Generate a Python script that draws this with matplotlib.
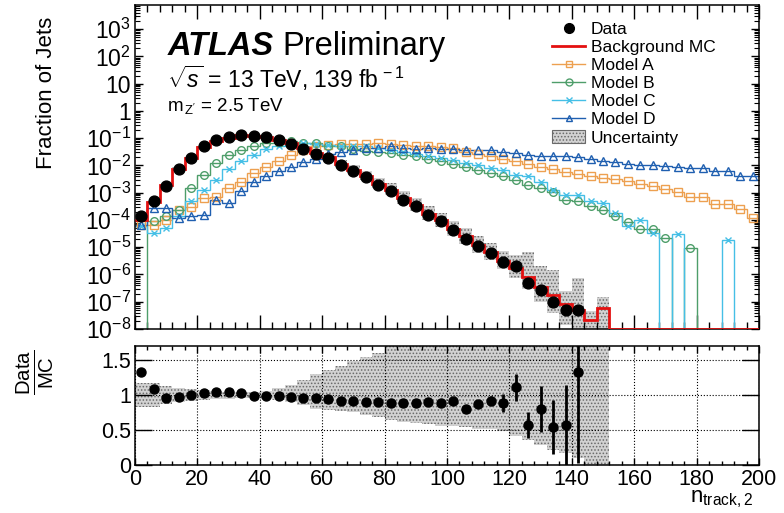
import numpy as np
import matplotlib
matplotlib.use('Agg')
import matplotlib.pyplot as plt
from matplotlib.lines import Line2D
from matplotlib.patches import Patch
from matplotlib.ticker import FixedLocator, MultipleLocator, LogLocator, NullFormatter, FuncFormatter

plt.rcParams['font.family'] = ['Liberation Sans', 'DejaVu Sans']
plt.rcParams['mathtext.fontset'] = 'custom'
plt.rcParams['mathtext.rm'] = 'Liberation Sans'
plt.rcParams['mathtext.it'] = 'Liberation Sans:italic'
plt.rcParams['mathtext.bf'] = 'Liberation Sans:bold'
plt.rcParams['hatch.linewidth'] = 0.7

# --- binning (n_track,2, 4 tracks per bin) ---
bin_edges = np.arange(0, 204, 4)
bin_centers = bin_edges[:-1] + 2

# --- data (bins 0-144) ---
data_frac = [1.35e-4, 4.79e-4, 1.82e-3, 7.41e-3, 1.86e-2, 5.01e-2, 8.32e-2, 0.110, 0.133, 0.123,
             0.110, 8.32e-2, 6.24e-2, 4.17e-2, 2.75e-2, 1.86e-2, 1.06e-2, 6.40e-3, 3.63e-3, 1.96e-3,
             1.12e-3, 5.55e-4, 3.15e-4, 1.56e-4, 8.89e-5, 4.42e-5, 2.01e-5, 1.08e-5, 6.18e-6, 2.80e-6,
             2.0e-6, 4.68e-7, 2.80e-7, 9.6e-8, 4.9e-8, 4.9e-8]

# --- background MC (all 50 bins) ---
bkg_mc = [1.02e-4, 4.42e-4, 1.91e-3, 7.69e-3, 1.87e-2, 4.88e-2, 7.98e-2, 0.105, 0.130, 0.124,
          0.112, 8.49e-2, 6.47e-2, 4.37e-2, 2.88e-2, 1.98e-2, 1.14e-2, 6.87e-3, 3.96e-3, 2.14e-3,
          1.24e-3, 6.18e-4, 3.51e-4, 1.71e-4, 9.9e-5, 4.82e-5, 2.51e-5, 1.22e-5, 6.64e-6, 3.16e-6,
          1.79e-6, 8.17e-7, 3.49e-7, 1.78e-7, 8.5e-8, 5.0e-8, 2.1e-8, 6.0e-8,
          0, 0, 0, 0, 0, 0, 0, 0, 0, 0, 0, 0]

# --- MC uncertainty, relative to MC (bins 0-152) ---
band_hi = [1.17, 1.17, 1.13, 1.10, 1.08, 1.07, 1.06, 1.05, 1.04, 1.04,
           1.06, 1.10, 1.15, 1.22, 1.30, 1.36, 1.42, 1.48, 1.54, 1.60,
           1.8, 1.9, 1.9, 1.9, 1.9, 1.9, 2.0, 2.1, 2.2, 2.3,
           3.0, 8.0, 6.0, 8.0, 3.0, 15.0, 2.2, 2.5]
band_lo = [0.83, 0.83, 0.87, 0.90, 0.92, 0.93, 0.94, 0.95, 0.96, 0.96,
           0.95, 0.93, 0.90, 0.86, 0.80, 0.78, 0.77, 0.75, 0.72, 0.68,
           0.64, 0.62, 0.60, 0.58, 0.56, 0.55, 0.54, 0.52, 0.51, 0.49,
           0.42, 0.36, 0.28, 0.22, 0.17, 0.10, 0.0, 0.0]

# --- signal models (all 50 bins) ---
model_a = [6.76e-5, 6.76e-5, 1.02e-4, 2.40e-4, 2.95e-4, 6.46e-4, 7.24e-4, 1.48e-3, 2.57e-3, 5.25e-3,
           9.12e-3, 1.41e-2, 2.45e-2, 3.80e-2, 5.01e-2, 5.75e-2, 6.03e-2, 6.17e-2, 6.17e-2, 6.61e-2,
           6.17e-2, 5.75e-2, 5.01e-2, 5.01e-2, 4.57e-2, 4.37e-2, 3.24e-2, 2.69e-2, 2.29e-2, 1.78e-2,
           1.48e-2, 1.15e-2, 8.91e-3, 7.59e-3, 5.89e-3, 5.01e-3, 4.17e-3, 3.55e-3, 3.24e-3, 2.75e-3,
           2.14e-3, 1.82e-3, 1.41e-3, 1.10e-3, 7.08e-4, 7.08e-4, 3.98e-4, 3.98e-4, 2.51e-4, 1.17e-4]
model_b = [0, 8.91e-5, 1.35e-4, 2.40e-4, 1.48e-3, 4.57e-3, 1.23e-2, 2.34e-2, 3.63e-2, 5.01e-2,
           6.46e-2, 6.92e-2, 7.59e-2, 6.92e-2, 6.61e-2, 5.37e-2, 5.01e-2, 4.07e-2, 3.47e-2, 3.02e-2,
           2.82e-2, 2.45e-2, 2.14e-2, 1.70e-2, 1.41e-2, 1.10e-2, 9.12e-3, 6.92e-3, 5.50e-3, 3.98e-3,
           3.02e-3, 1.95e-3, 1.48e-3, 1.02e-3, 5.50e-4, 4.79e-4, 3.31e-4, 2.40e-4, 1.35e-4, 8.13e-5,
           4.68e-5, 4.68e-5, 2.19e-5, 0, 9.33e-6, 0, 0, 0, 0, 0]
model_c = [6.17e-5, 3.31e-5, 5.25e-5, 1.35e-4, 5.13e-4, 1.29e-3, 3.02e-3, 7.59e-3, 1.45e-2, 2.45e-2,
           4.07e-2, 5.01e-2, 6.03e-2, 6.61e-2, 6.17e-2, 5.75e-2, 5.37e-2, 5.01e-2, 5.01e-2, 4.37e-2,
           3.80e-2, 3.24e-2, 2.69e-2, 2.14e-2, 1.82e-2, 1.62e-2, 1.23e-2, 1.07e-2, 7.94e-3, 6.61e-3,
           4.57e-3, 3.98e-3, 2.57e-3, 1.29e-3, 8.51e-4, 8.51e-4, 4.79e-4, 4.17e-4, 1.82e-4, 5.89e-5,
           1.02e-4, 3.31e-5, 0, 3.09e-5, 0, 0, 0, 1.78e-5, 0, 0]
model_d = [6.76e-5, 2.75e-4, 2.75e-4, 1.17e-4, 1.45e-4, 1.55e-4, 5.62e-4, 4.27e-4, 1.12e-3, 2.40e-3,
           4.17e-3, 6.17e-3, 8.51e-3, 1.29e-2, 1.78e-2, 2.69e-2, 3.02e-2, 3.80e-2, 4.37e-2, 4.37e-2,
           5.01e-2, 4.37e-2, 4.07e-2, 4.37e-2, 4.17e-2, 3.89e-2, 3.80e-2, 3.55e-2, 3.55e-2, 3.02e-2,
           2.82e-2, 2.45e-2, 2.29e-2, 2.14e-2, 2.14e-2, 2.04e-2, 1.70e-2, 1.41e-2, 1.29e-2, 1.15e-2,
           1.07e-2, 1.0e-2, 9.77e-3, 8.51e-3, 7.94e-3, 7.94e-3, 6.03e-3, 6.03e-3, 3.98e-3, 3.98e-3]

# --- data / MC ratio ---
ratio = [1.33, 1.087, 0.957, 0.967, 1.0, 1.024, 1.039, 1.039, 1.024, 0.99,
         0.981, 0.981, 0.967, 0.957, 0.957, 0.943, 0.919, 0.919, 0.904, 0.904,
         0.886, 0.886, 0.886, 0.904, 0.886, 0.91, 0.80, 0.871, 0.919, 0.881,
         1.11, 0.573, 0.802, 0.54, 0.573, 1.33]
ratio_err = [0.03, 0.015, 0.01, 0.01, 0.01, 0.01, 0.01, 0.01, 0.01, 0.01,
             0.01, 0.01, 0.01, 0.01, 0.01, 0.01, 0.01, 0.01, 0.01, 0.01,
             0.015, 0.015, 0.02, 0.02, 0.025, 0.03, 0.04, 0.05, 0.065, 0.13,
             0.19, 0.19, 0.33, 0.39, 0.57, 1.3]

models = [
    ("Model A", model_a, '#eda050', 's'),
    ("Model B", model_b, '#4e9e6a', 'o'),
    ("Model C", model_c, '#45bfe6', 'x'),
    ("Model D", model_d, '#1f5fb0', '^'),
]

YMIN, YMAX = 1e-8, 10**3.89
RED = '#e41010'
BAND_FC = '#d2d2d2'
BAND_EC = '#6a6a6a'

fig = plt.figure(figsize=(7.84, 5.13), dpi=100)
ax1 = fig.add_axes([0.1722, 0.3587, 0.7959, 0.6316])
ax2 = fig.add_axes([0.1722, 0.0936, 0.7959, 0.2319])

# ---------------- upper panel ----------------
n_band = len(band_hi)
mc_band = np.array(bkg_mc[:n_band])
ax1.stairs(np.maximum(mc_band * np.array(band_hi), YMIN), bin_edges[:n_band + 1],
           baseline=np.maximum(mc_band * np.array(band_lo), YMIN),
           fill=True, facecolor=BAND_FC, edgecolor=BAND_EC, hatch='.....', lw=0, zorder=1)

for name, vals, col, mk in models:
    v = np.array(vals)
    ax1.stairs(np.maximum(v, YMIN), bin_edges, baseline=None, color=col, lw=1.0, zorder=2)
    ok = v > 0
    ax1.plot(bin_centers[ok], v[ok], ls='none', marker=mk, mfc='none', mec=col,
             ms=5.5 if mk != 'x' else 5, mew=1.0, zorder=3)

ax1.stairs(np.maximum(np.array(bkg_mc), YMIN), bin_edges, baseline=None, color=RED, lw=2.0, zorder=4)
ax1.plot(bin_centers[:len(data_frac)], data_frac, ls='none', marker='o', color='black', ms=7.8, zorder=5)

ax1.set_yscale('log')
ax1.set_xlim(0, 200)
ax1.set_ylim(YMIN, YMAX)
ax1.yaxis.set_major_locator(FixedLocator([10.0**e for e in range(-8, 4)]))
ax1.yaxis.set_minor_locator(LogLocator(base=10, subs=np.arange(2, 10), numticks=30))
ax1.yaxis.set_minor_formatter(NullFormatter())


def log_label(v, pos):
    e = int(round(np.log10(v)))
    if e == 0:
        return '1'
    if e == 1:
        return '10'
    return r'$10^{%d}$' % e


ax1.yaxis.set_major_formatter(FuncFormatter(log_label))
ax1.xaxis.set_major_locator(MultipleLocator(20))
ax1.xaxis.set_minor_locator(MultipleLocator(4))
ax1.set_xticklabels([])
ax1.tick_params(axis='both', which='both', direction='in', top=True, right=True)
ax1.tick_params(axis='x', which='major', length=10, width=1)
ax1.tick_params(axis='x', which='minor', length=5, width=1)
ax1.tick_params(axis='y', which='major', length=6, width=1, labelsize=16.5, pad=3)
ax1.tick_params(axis='y', which='minor', length=3.5, width=0.8)
for s in ax1.spines.values():
    s.set_linewidth(1.1)

ax1.set_ylabel('Fraction of Jets', fontsize=16, labelpad=4)
ax1.yaxis.set_label_coords(-0.125, 0.73)

ax1.text(0.052, 0.846, 'ATLAS', transform=ax1.transAxes, fontsize=23.5,
         fontweight='bold', fontstyle='italic')
ax1.text(0.236, 0.846, 'Preliminary', transform=ax1.transAxes, fontsize=23.5)
ax1.text(0.052, 0.745, r'$\sqrt{s}$ = 13 TeV, 139 fb$^{\,-1}$', transform=ax1.transAxes, fontsize=16.5)
ax1.text(0.052, 0.672, r'm$_{\,\mathrm{Z^{\prime}}}$ = 2.5 TeV', transform=ax1.transAxes, fontsize=13.5)

handles = [Line2D([], [], ls='none', marker='o', color='black', ms=7)]
labels = ['Data']
handles.append(Line2D([], [], color=RED, lw=2))
labels.append('Background MC')
for name, vals, col, mk in models:
    handles.append(Line2D([], [], color=col, lw=1, marker=mk, mfc='none', mec=col, ms=5))
    labels.append(name)
handles.append(Patch(facecolor=BAND_FC, edgecolor=BAND_EC, hatch='.....', lw=0.8))
labels.append('Uncertainty')
ax1.legend(handles, labels, loc='upper left', bbox_to_anchor=(0.655, 0.975), frameon=False,
           fontsize=12.5, labelspacing=0.17, handlelength=1.9, handletextpad=0.3,
           borderpad=0.3, borderaxespad=0.2)

# ---------------- ratio panel ----------------
ax2.stairs(np.array(band_hi), bin_edges[:n_band + 1], baseline=np.array(band_lo),
           fill=True, facecolor=BAND_FC, edgecolor=BAND_EC, hatch='.....', lw=0, zorder=1)
ax2.errorbar(bin_centers[:len(ratio)], ratio, yerr=ratio_err, fmt='o', color='black',
             ms=6.5, elinewidth=2.0, capsize=0, zorder=4)

ax2.set_xlim(0, 200)
ax2.set_ylim(0, 1.7)
ax2.xaxis.set_major_locator(MultipleLocator(20))
ax2.xaxis.set_minor_locator(MultipleLocator(4))
ax2.yaxis.set_major_locator(FixedLocator([0, 0.5, 1, 1.5]))
ax2.yaxis.set_major_formatter(FuncFormatter(lambda v, p: '%g' % v))
ax2.grid(True, which='major', ls=':', color='black', lw=0.8, zorder=2)
ax2.set_axisbelow(False)
ax2.tick_params(axis='both', which='both', direction='in', top=True, right=True)
ax2.tick_params(axis='x', which='major', length=5, width=1, labelsize=15.5, pad=3)
ax2.tick_params(axis='x', which='minor', length=3, width=1)
ax2.tick_params(axis='y', which='major', length=12, width=1, labelsize=15.5, pad=3)
for s in ax2.spines.values():
    s.set_linewidth(1.1)

ax2.set_ylabel(r'$\frac{\mathrm{Data}}{\mathrm{MC}}$', fontsize=21, labelpad=6)
ax2.yaxis.set_label_coords(-0.127, 0.78)
ax2.set_xlabel(r'n$_{\mathrm{track,2}}$', fontsize=16, loc='right', labelpad=0)
ax2.xaxis.set_label_coords(0.99, -0.2)

fig.savefig('out.png', dpi=100)
